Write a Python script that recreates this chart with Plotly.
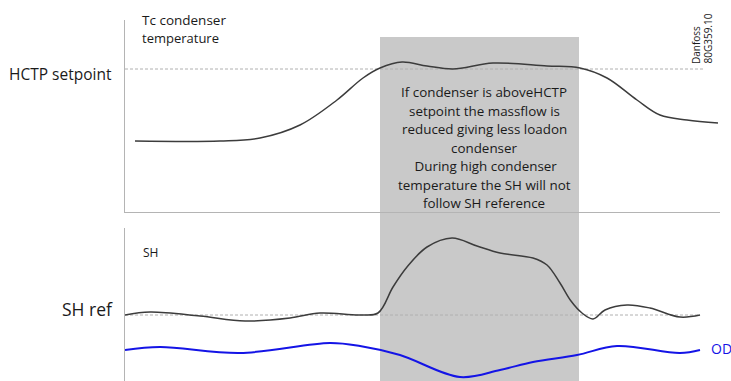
import plotly.graph_objects as go

W, H = 731, 381

# ---- data (arbitrary schematic units) ----
tc_time = [10, 95, 135, 175, 212, 238, 255, 277, 302, 328, 368, 422, 455, 482, 512, 535, 562, 593]
tc_value = [71, 71, 74, 87, 112, 134, 144, 150, 146, 143, 149, 146, 144, 134, 112, 97, 92, 89]
hctp_setpoint = 143

sh_time = [0, 25, 75, 120, 165, 195, 235, 253, 268, 282, 302, 327, 352, 375, 408, 422, 435, 446, 457, 468, 480, 502, 525, 555, 575]
sh_value = [66, 69, 65, 60, 63, 68, 66, 68, 94, 114, 134, 143, 135, 128, 123, 116, 98, 80, 68, 62, 71, 76, 73, 64, 66]
sh_ref = 66

od_time = [0, 35, 115, 205, 235, 275, 335, 375, 408, 452, 492, 555, 575]
od_value = [31, 34, 28, 38, 35, 26, 4, 11, 19, 26, 35, 28, 31]

highlight_start, highlight_end = 255, 454

box_lines = [
    "If condenser is aboveHCTP",
    "setpoint the massflow is",
    "reduced giving less loadon",
    "condenser",
    " During high condenser",
    "temperature the SH will not",
    "follow SH reference",
]

FONT = "Open Sans"
DARK = "#3c3c3c"
AXIS = "#b4b4b4"

def px_x(p):
    return p / W

def px_y(p):
    return 1 - p / H

fig = go.Figure()

# top panel: condenser temperature
fig.add_trace(go.Scatter(x=[0, 578], y=[hctp_setpoint, hctp_setpoint], mode="lines",
                         line=dict(color="#b0b0b0", width=1, dash="3px,2px"),
                         xaxis="x", yaxis="y", hoverinfo="skip"))
fig.add_trace(go.Scatter(x=tc_time, y=tc_value, mode="lines", line_shape="spline",
                         line=dict(color=DARK, width=1.5), xaxis="x", yaxis="y"))

# bottom panel: SH and OD
fig.add_trace(go.Scatter(x=[0, 575], y=[sh_ref, sh_ref], mode="lines",
                         line=dict(color="#b0b0b0", width=1, dash="3px,2px"),
                         xaxis="x2", yaxis="y2", hoverinfo="skip"))
fig.add_trace(go.Scatter(x=sh_time, y=sh_value, mode="lines", line_shape="spline",
                         line=dict(color=DARK, width=1.5), xaxis="x2", yaxis="y2"))
fig.add_trace(go.Scatter(x=od_time, y=od_value, mode="lines", line_shape="spline",
                         line=dict(color="#1414e6", width=2), xaxis="x2", yaxis="y2"))

fig.add_shape(type="rect", xref="x", yref="paper",
              x0=highlight_start, x1=highlight_end, y0=0, y1=px_y(37),
              fillcolor="#c9c9c9", line=dict(width=0), layer="below")

xdom = [px_x(125), px_x(720)]
fig.update_layout(
    width=W, height=H, margin=dict(l=0, r=0, t=0, b=0),
    paper_bgcolor="white", plot_bgcolor="rgba(0,0,0,0)",
    showlegend=False,
    xaxis=dict(domain=xdom, range=[0, 595], showgrid=False, zeroline=False,
               showticklabels=False, ticks="", showline=True, linecolor=AXIS,
               linewidth=1, anchor="y"),
    yaxis=dict(domain=[px_y(212), px_y(20)], range=[0, 192], showgrid=False,
               zeroline=False, showticklabels=False, ticks="", showline=True,
               linecolor=AXIS, linewidth=1, anchor="x"),
    xaxis2=dict(domain=xdom, range=[0, 595], showgrid=False, zeroline=False,
                showticklabels=False, ticks="", showline=False, anchor="y2"),
    yaxis2=dict(domain=[0, px_y(228)], range=[0, 153], showgrid=False,
                zeroline=False, showticklabels=False, ticks="", showline=True,
                linecolor=AXIS, linewidth=1, anchor="x2"),
)

def ann(text, x, y, size, xanchor="left", yanchor="middle", color="#1a1a1a", align="left", **kw):
    fig.add_annotation(text=text, x=px_x(x), y=px_y(y), xref="paper", yref="paper",
                       xanchor=xanchor, yanchor=yanchor, showarrow=False, align=align,
                       font=dict(family=FONT, size=size, color=color), borderpad=0, **kw)

ann("Tc condenser", 141, 20, 13.5)
ann("temperature", 141, 38, 13)
ann("HCTP setpoint", 113, 74, 15.5, xanchor="right")
ann("SH", 142, 252, 12)
ann("SH ref", 114, 309, 17.5, xanchor="right")
ann("OD", 710, 348, 14, color="#1414e6")

for i, line in enumerate(box_lines):
    ann(line, 484, 92 + i * 18.5, 13.4, xanchor="center", align="center")

ann("Danfoss", 696, 65, 10, xanchor="center", yanchor="bottom", textangle=-90)
ann("80G359.10", 707.5, 65, 10, xanchor="center", yanchor="bottom", textangle=-90)

fig.write_html("out.html", config={"displayModeBar": False},
               post_script="document.body.style.margin='0';document.body.style.overflow='hidden';")
